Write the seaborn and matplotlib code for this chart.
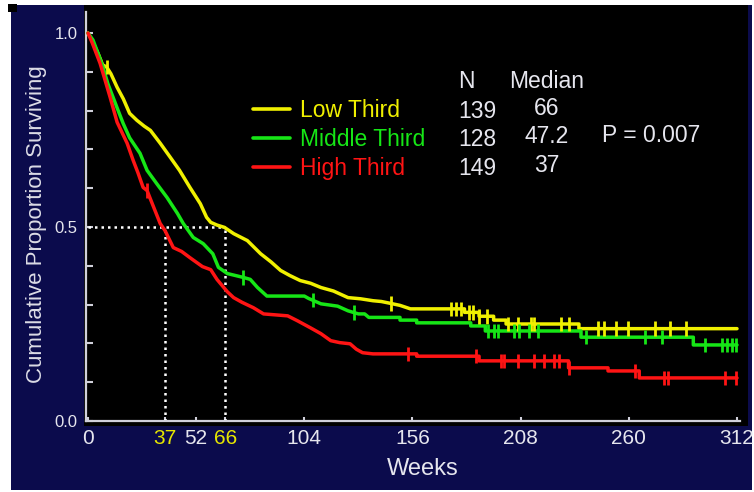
import numpy as np
import pandas as pd
import matplotlib
matplotlib.use("Agg")
import matplotlib.pyplot as plt
import seaborn as sns
from matplotlib.patches import Rectangle
from matplotlib import font_manager
from matplotlib.lines import Line2D

# ---------------- data ----------------
groups = ["Low Third", "Middle Third", "High Third"]
colors = ["#f0f000", "#16e616", "#ff1414"]
n_patients = ["139", "128", "149"]
medians = ["66", "47.2", "37"]
median_lines = [37, 66]
p_text = "P = 0.007"

low_weeks = [0, 2, 5, 7, 9, 11, 14, 17, 20, 23.5, 27, 30, 34.7, 39.5, 44, 49, 54, 57, 59, 62, 65.6,
             70, 76.6, 83, 88, 92.6, 97, 102, 107, 112, 118, 125, 131, 137, 141, 145.6, 150, 155,
             181, 181, 188, 188, 195, 195, 201, 201, 236, 236, 312]
low_surv = [1.0, 0.98, 0.945, 0.918, 0.912, 0.895, 0.86, 0.83, 0.793, 0.775, 0.76, 0.749, 0.716, 0.68,
            0.646, 0.602, 0.56, 0.525, 0.512, 0.505, 0.499, 0.483, 0.465, 0.431, 0.41, 0.388, 0.375,
            0.362, 0.355, 0.344, 0.335, 0.318, 0.315, 0.31, 0.308, 0.303, 0.298, 0.289,
            0.289, 0.28, 0.28, 0.27, 0.27, 0.26, 0.26, 0.25, 0.25, 0.238, 0.238]
low_censor = [9, 145.6, 174.5, 177, 179.4, 183, 185, 188, 192, 202, 206.8, 213, 214.5, 227.6, 231,
              245.4, 248.3, 254, 259.5, 272.4, 280, 287.4]

mid_weeks = [0, 2.4, 5, 7.2, 9.5, 12, 14.5, 16.9, 20, 25, 28.4, 33, 38, 43, 45.8, 50.6, 55.4, 60,
             62.7, 67, 74.7, 78, 81.5, 86, 104, 106, 112, 120, 125, 130, 133, 135, 150, 150, 158,
             158, 184, 184, 191, 191, 237, 237, 291, 291, 312]
mid_surv = [1.0, 0.982, 0.945, 0.912, 0.87, 0.835, 0.8, 0.767, 0.73, 0.69, 0.646, 0.612, 0.576, 0.535,
            0.509, 0.473, 0.457, 0.431, 0.396, 0.38, 0.37, 0.365, 0.344, 0.322, 0.322, 0.316, 0.302,
            0.296, 0.284, 0.276, 0.276, 0.267, 0.267, 0.26, 0.26, 0.253, 0.253, 0.245, 0.245, 0.232,
            0.232, 0.216, 0.216, 0.196, 0.196]
mid_censor = [74.5, 108, 128, 192.4, 195, 197, 205, 207, 212, 216.5, 239.6, 267.6, 275.8, 296.5,
              304.7, 307, 309.5, 311.5]

high_weeks = [0, 2, 5.8, 10.6, 14, 18.8, 21.7, 24, 26.5, 28.4, 30.9, 34.7, 37, 41, 45, 49, 55, 59,
              62, 67, 70, 74, 79.5, 84.4, 96, 100.8, 107, 112, 116.7, 121, 126, 129, 132, 137, 158,
              158, 188, 188, 231, 231, 250, 250, 265, 265, 312]
high_surv = [1.0, 0.975, 0.922, 0.835, 0.77, 0.716, 0.672, 0.64, 0.602, 0.594, 0.56, 0.509, 0.491,
             0.447, 0.437, 0.421, 0.398, 0.39, 0.365, 0.333, 0.318, 0.306, 0.292, 0.276, 0.271, 0.258,
             0.24, 0.225, 0.207, 0.202, 0.199, 0.185, 0.176, 0.173, 0.173, 0.167, 0.167, 0.155, 0.155,
             0.137, 0.137, 0.129, 0.129, 0.111, 0.111]
high_censor = [28.4, 153.8, 186.6, 198.6, 200, 206.8, 214.5, 219.4, 224.2, 226.5, 231, 262.8, 276.7,
               279, 306, 311.5]

x_ticks = [0, 37, 52, 66, 104, 156, 208, 260, 312]
x_tick_labels = ["0", "37", "52", "66", "104", "156", "208", "260", "312"]
x_tick_colors = ["#e6e6ee", "#e6e600", "#e6e6ee", "#e6e600", "#e6e6ee", "#e6e6ee", "#e6e6ee",
                 "#e6e6ee", "#e6e6ee"]
y_ticks = [0.0, 0.5, 1.0]
y_tick_labels = ["0.0", "0.5", "1.0"]
y_minor = [0.1, 0.2, 0.3, 0.4, 0.6, 0.7, 0.8, 0.9]

# ---------------- build tables ----------------
curves = pd.concat([
    pd.DataFrame({"week": w, "surv": s, "group": g})
    for g, w, s in zip(groups, [low_weeks, mid_weeks, high_weeks], [low_surv, mid_surv, high_surv])
], ignore_index=True)


def value_on_curve(weeks, surv, t):
    weeks = np.asarray(weeks, float)
    surv = np.asarray(surv, float)
    i = np.searchsorted(weeks, t, side="right") - 1
    i = min(max(i, 0), len(weeks) - 1)
    if i == len(weeks) - 1:
        return surv[-1]
    w0, w1 = weeks[i], weeks[i + 1]
    if w1 == w0:
        return surv[i + 1]
    return surv[i] + (surv[i + 1] - surv[i]) * (t - w0) / (w1 - w0)


cens_rows = []
for g, w, s, c in zip(groups, [low_weeks, mid_weeks, high_weeks], [low_surv, mid_surv, high_surv],
                      [low_censor, mid_censor, high_censor]):
    for t in c:
        cens_rows.append({"week": t, "surv": value_on_curve(w, s, t), "group": g})
censored = pd.DataFrame(cens_rows)

# ---------------- fonts ----------------
available = {f.name for f in font_manager.fontManager.ttflist}
base_font = "Liberation Sans" if "Liberation Sans" in available else "DejaVu Sans"
narrow_font = "Liberation Sans Narrow" if "Liberation Sans Narrow" in available else base_font

sns.set_theme(style="dark")
plt.rcParams["font.family"] = [base_font, "DejaVu Sans"]

W, H = 754, 492
navy = "#0b0b4c"
light = "#e6e6ee"
fig = plt.figure(figsize=(W / 100, H / 100), dpi=100, facecolor="white")
fig.patches.append(Rectangle((11 / W, (H - 490) / H), (752 - 11) / W, (490 - 5) / H,
                             transform=fig.transFigure, facecolor=navy, edgecolor="none", zorder=-2))
fig.patches.append(Rectangle((8 / W, (H - 12) / H), 9 / W, 8 / H, transform=fig.transFigure,
                             facecolor="black", edgecolor="none", zorder=-1))

ax = fig.add_axes([84 / W, (H - 426) / H, (748 - 84) / W, (426 - 5) / H])
ax.set_facecolor("black")
ax.grid(False)

palette = dict(zip(groups, colors))
sns.lineplot(data=curves, x="week", y="surv", hue="group", hue_order=groups, palette=palette,
             estimator=None, sort=False, linewidth=2.5, ax=ax, legend=False, zorder=3)
sns.scatterplot(data=censored, x="week", y="surv", hue="group", hue_order=groups, palette=palette,
                marker="|", s=110, linewidth=2.0, ax=ax, legend=False, zorder=4)

# median reference lines (dotted)
ax.hlines(0.5, 0, max(median_lines), colors="white", linestyles=(0, (1, 1.6)), linewidth=1.8, zorder=2)
ax.vlines(median_lines, 0, 0.5, colors="white", linestyles=(0, (1, 1.6)), linewidth=1.8, zorder=2)

# axis limits so that week 0 -> px 88, week 312 -> px 737; surv 0 -> px 421, 1 -> px 33
ax.set_xlim(-4 / 2.08, 312 + 11 / 2.08)
ax.set_ylim(-5 / 388, 1 + 28 / 388)

for side in ["top", "right"]:
    ax.spines[side].set_visible(False)
ax.spines["left"].set_position(("data", -1))
ax.spines["left"].set_bounds(0, 1.054)
ax.spines["bottom"].set_position(("data", 0))
ax.spines["bottom"].set_bounds(-1, 313.5)
for side in ["left", "bottom"]:
    ax.spines[side].set_color("#d0d0da")
    ax.spines[side].set_linewidth(1.6)
    ax.spines[side].set_visible(True)

ax.set_xticks(x_ticks)
ax.set_xticklabels(x_tick_labels, fontfamily=narrow_font, fontsize=15)
for lab, col in zip(ax.get_xticklabels(), x_tick_colors):
    lab.set_color(col)
ax.set_yticks(y_ticks)
ax.set_yticklabels(y_tick_labels, fontsize=12, color=light)
ax.set_yticks(y_minor, minor=True)
ax.tick_params(axis="x", direction="in", length=3, width=1.5, color="#d0d0da", pad=6, bottom=True)
ax.tick_params(axis="y", which="both", direction="in", length=5, width=1.5, color="#d0d0da", pad=6,
               left=True)

ax.set_xlabel("Weeks", fontfamily=narrow_font, fontsize=17, color=light)
ax.xaxis.set_label_coords((423 - 84) / 664, (426 - 458) / 421)
ax.set_ylabel("Cumulative Proportion Surviving", fontsize=16, color="#dcdce6")
ax.yaxis.set_label_coords((47 - 84) / 664, (426 - 224) / 421)

# legend
handles = [Line2D([], [], color=c, linewidth=2.6) for c in colors]
leg = fig.legend(handles, groups, loc="upper left", bbox_to_anchor=(253 / W, 1 - 99 / H),
                 frameon=False, fontsize=16.5, handlelength=1.6, handletextpad=0.45,
                 labelspacing=0.26, borderpad=0, borderaxespad=0, labelcolor="linecolor")

# table of N / median / p-value
fs = 16.5
def ftext(x, y, s, ha="left"):
    fig.text(x / W, 1 - y / H, s, ha=ha, va="baseline", fontsize=fs, color=light)

ftext(458, 88, "N")
ftext(547, 88, "Median", ha="center")
for y, n in zip([118, 146, 175], n_patients):
    ftext(458, y, n)
for y, m in zip([115, 143, 172], medians):
    ftext(547, y, m, ha="center")
ftext(602, 142, p_text)

fig.savefig("out.png", dpi=100, facecolor=fig.get_facecolor())
